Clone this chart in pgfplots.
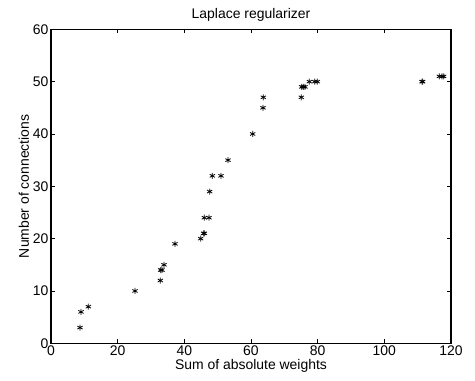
\documentclass[border=0pt]{standalone}
\usepackage{fontspec}
\setmainfont{Liberation Sans}
\usepackage{pgfplots}
\pgfplotsset{compat=1.18}
\begin{document}
\begin{tikzpicture}
\begin{axis}[
  scale only axis,
  width=400bp, height=314bp,
  xmin=0, xmax=120, ymin=0, ymax=60,
  xtick={0,20,...,120}, ytick={0,10,...,60},
  tick align=inside,
  major tick length=4bp,
  axis line style={line width=1.2bp},
  tick style={line width=0.8bp, black},
  every tick label/.style={font=\fontsize{14}{16}\selectfont},
  /pgf/number format/assume math mode=true,
  label style={font=\fontsize{14}{16}\selectfont},
  title style={font=\fontsize{14}{16}\selectfont, yshift=-2bp},
  title={Laplace regularizer},
  xlabel={Sum of absolute weights},
  ylabel={Number of connections},
  xlabel style={yshift=2.5bp},
  ylabel style={yshift=-3bp},
  xticklabel style={yshift=1.5bp},
  yticklabel style={xshift=1bp},
]
\addplot[only marks, mark=asterisk, mark size=3bp, black, mark options={line width=0.8bp}] coordinates {
(8.7,3) (9.0,6) (11.2,7) (25.2,10) (32.8,12) (32.9,14) (33.3,14) (33.9,15)
(37.2,19) (44.9,20) (45.8,21) (46.0,21) (46.0,24) (47.4,24) (47.6,29)
(48.4,32) (51.0,32) (53.1,35) (60.5,40) (63.6,45) (63.7,47) (75.1,47)
(75.2,49) (75.7,49) (76.2,49) (77.5,50) (79.1,50) (79.9,50) (111.3,50)
(111.5,50) (116.5,51) (117.3,51) (117.8,51)
};
\end{axis}
\path (current axis.south west) ++(-51bp,-37.7bp) rectangle ++(475bp,381bp);
\end{tikzpicture}
\end{document}
